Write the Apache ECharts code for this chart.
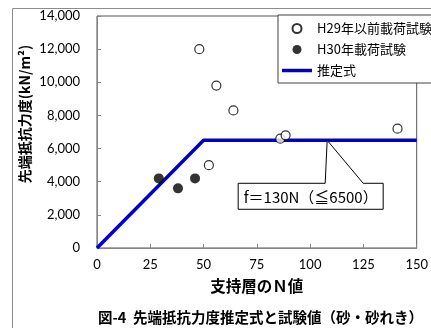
<!DOCTYPE html>
<html>
<head>
<meta charset="utf-8">
<script src="https://cdn.jsdelivr.net/npm/echarts@6/dist/echarts.min.js"></script>
<style>
  html, body { margin: 0; padding: 0; background: #fff; }
  #chart { width: 431px; height: 328px; }
</style>
</head>
<body>
<div id="chart"></div>
<script>
// Load tests carried out up to H29 (bearing-layer N value, tip resistance kN/m2)
const h29N = [48, 56, 64, 86, 88.5, 141, 52.5];
const h29F = [12000, 9800, 8300, 6600, 6800, 7200, 5000];
// Load tests carried out in H30
const h30N = [29, 38, 46];
const h30F = [4200, 3600, 4200];
// Estimation formula f = 130N (capped at 6500)
const formulaN = [0, 50, 150];
const formulaF = [0, 6500, 6500];

const xTicks = { min: 0, max: 150, interval: 25 };
const yTicks = { min: 0, max: 14000, interval: 2000 };

const seriesNames = ['H29年以前載荷試験', 'H30年載荷試験', '推定式'];
const xTitle = '支持層のＮ値';
const yTitle = '先端抵抗力度(kN/m²)';
const caption = '図-4  先端抵抗力度推定式と試験値（砂・砂れき）';
const formulaLabel = 'f＝130N（≦6500）';
const calloutAt = [108, 6500];

const zip = (a, b) => a.map((v, i) => [v, b[i]]);

const jp = '"Noto Sans CJK JP", "Noto Sans", sans-serif';
const num = 'Lato, "Open Sans", sans-serif';

const chart = echarts.init(document.getElementById('chart'), null, { renderer: 'canvas' });

const option = {
  animation: false,
  backgroundColor: '#fff',
  grid: {
    left: 97, top: 16, right: 12, bottom: 80,
    show: true, borderColor: '#555', borderWidth: 1, backgroundColor: 'transparent'
  },
  xAxis: {
    type: 'value', min: xTicks.min, max: xTicks.max, interval: xTicks.interval,
    name: xTitle, nameLocation: 'middle', nameGap: 30,
    nameTextStyle: { fontFamily: jp, fontWeight: 'bold', fontSize: 15.5, color: '#000' },
    axisLine: { show: true, lineStyle: { color: '#868686', width: 1 } },
    axisTick: { show: true, inside: true, length: 4, lineStyle: { color: '#868686' } },
    axisLabel: { fontFamily: num, fontSize: 13, color: '#000', margin: 10 },
    splitLine: { show: false }
  },
  yAxis: {
    type: 'value', min: yTicks.min, max: yTicks.max, interval: yTicks.interval,
    axisLine: { show: true, lineStyle: { color: '#868686', width: 1 } },
    axisTick: { show: true, inside: true, length: 4, lineStyle: { color: '#868686' } },
    axisLabel: {
      fontFamily: num, fontSize: 13, color: '#000', margin: 17,
      formatter: v => v.toLocaleString('en-US')
    },
    splitLine: { show: false }
  },
  legend: {
    left: 278, top: 15, orient: 'vertical',
    data: [
      { name: seriesNames[0], icon: 'circle' },
      { name: seriesNames[1], icon: 'circle' },
      { name: seriesNames[2], icon: 'path://M0,0H30V3.5H0Z' }
    ],
    backgroundColor: '#fff', borderColor: '#404040', borderWidth: 1,
    padding: [7, 12, 6, 4], itemGap: 8, itemWidth: 30, itemHeight: 9,
    textStyle: { fontFamily: jp, fontSize: 13, color: '#000' }
  },
  series: [
    {
      name: seriesNames[2], type: 'line', data: zip(formulaN, formulaF),
      symbol: 'none', lineStyle: { color: '#0000cc', width: 3.5 },
      itemStyle: { color: '#0000cc' }, z: 2
    },
    {
      name: seriesNames[0], type: 'scatter', data: zip(h29N, h29F),
      symbol: 'circle', symbolSize: 9,
      itemStyle: { color: '#fff', borderColor: '#000', borderWidth: 1.2 }, z: 3
    },
    {
      name: seriesNames[1], type: 'scatter', data: zip(h30N, h30F),
      symbol: 'circle', symbolSize: 10,
      itemStyle: { color: '#000' }, z: 3
    }
  ]
};

chart.setOption(option);

// Outer frame, axis title, caption and the formula callout
const tip = chart.convertToPixel({ gridIndex: 0 }, calloutAt);
const boxL = tip[0] - 89, boxR = tip[0] + 56, boxT = tip[1] + 43, boxB = tip[1] + 69;
const wedgeL = tip[0] - 2, wedgeR = tip[0] + 36;

chart.setOption({
  graphic: [
    {
      type: 'rect', silent: true, z: -10,
      shape: { x: 12.5, y: 8.5, width: 440, height: 340 },
      style: { fill: 'none', stroke: '#8c8c8c', lineWidth: 1 }
    },
    {
      type: 'text', x: 25, y: 114, rotation: Math.PI / 2,
      style: {
        text: yTitle, x: 0, y: 0, align: 'center', verticalAlign: 'middle',
        fontFamily: jp, fontWeight: 'bold', fontSize: 14, fill: '#000'
      }
    },
    {
      type: 'text', x: 98, y: 317,
      style: {
        text: caption, align: 'left', verticalAlign: 'middle',
        fontFamily: jp, fontWeight: 'bold', fontSize: 14.5, fill: '#000'
      }
    },
    {
      type: 'polygon', z: 100,
      shape: {
        points: [
          [boxL, boxT], [wedgeL, boxT], tip, [wedgeR, boxT],
          [boxR, boxT], [boxR, boxB], [boxL, boxB]
        ]
      },
      style: { fill: '#fff', stroke: '#000', lineWidth: 1 }
    },
    {
      type: 'text', z: 101, x: (boxL + boxR) / 2, y: (boxT + boxB) / 2 + 1,
      style: {
        text: formulaLabel, align: 'center', verticalAlign: 'middle',
        fontFamily: jp, fontSize: 15, fill: '#000'
      }
    }
  ]
});
</script>
</body>
</html>
